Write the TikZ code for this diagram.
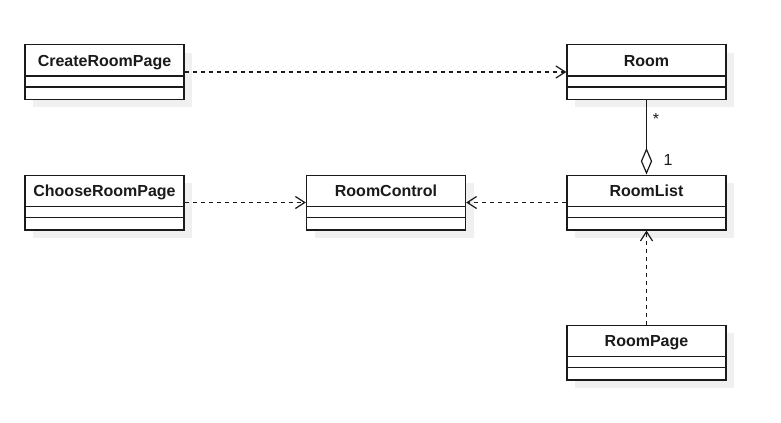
\documentclass[tikz,border=0pt]{standalone}
\usepackage{fontspec}
\setmainfont{Liberation Sans}
\usetikzlibrary{arrows.meta,calc,shadows}
\definecolor{shadowgray}{HTML}{F0F0F0}
\definecolor{inkgray}{HTML}{1A1A1A}
\tikzset{
  cls/.style={draw=inkgray, fill=white, line width=1pt, minimum width=119.25pt, minimum height=41pt, inner sep=0pt,
    general shadow={fill=shadowgray, shadow xshift=6pt, shadow yshift=-6pt}},
  title/.style={font=\fontsize{12}{14}\selectfont\bfseries, text=inkgray, inner sep=0pt, anchor=base},
  mult/.style={font=\fontsize{12}{14}\selectfont, text=inkgray, inner sep=0pt},
  sep/.style={draw=inkgray, line width=1pt},
  dep/.style={draw=inkgray, line width=0.9pt, dash pattern=on 3pt off 3pt, -{Straight Barb[length=7pt,width=9pt,line width=0.9pt]}},
  agg/.style={draw=inkgray, line width=0.9pt, {Diamond[open,length=20pt,width=8.5pt,line width=0.9pt,fill=white]}-}
}
\newcommand{\classbox}[3]{%
  \node[cls] (#1) at (#2) {};
  \node[title] (#1T) at ($(#1.north)+(0,22.3)$) {#3};
  \draw[sep] ($(#1.north west)+(0,32)$) -- ($(#1.north east)+(0,32)$);
  \draw[sep] ($(#1.north west)+(0,43)$) -- ($(#1.north east)+(0,43)$);
}
\begin{document}
\begin{tikzpicture}[x=0.75pt,y=-0.75pt]
\useasboundingbox[fill=white] (0,0) rectangle (781,422);
\classbox{cr}{104.5,72}{CreateRoomPage}
\classbox{room}{646.5,72}{Room}
\classbox{chr}{104.5,202.5}{ChooseRoomPage}
\classbox{rc}{386,202.5}{RoomControl}
\classbox{rl}{646.5,202.5}{RoomList}
\classbox{rp}{646.5,352.5}{RoomPage}
\draw[dep] (cr.east) -- (room.west);
\draw[dep] (chr.east) -- (rc.west);
\draw[dep] (rl.west) -- (rc.east);
\draw[dep] (rp.north) -- (rl.south);
\draw[agg] (rl.north) -- (room.south);
\node[mult] (star) at (656,119) {*};
\node[mult] (one) at (668,160) {1};
\end{tikzpicture}
\end{document}
